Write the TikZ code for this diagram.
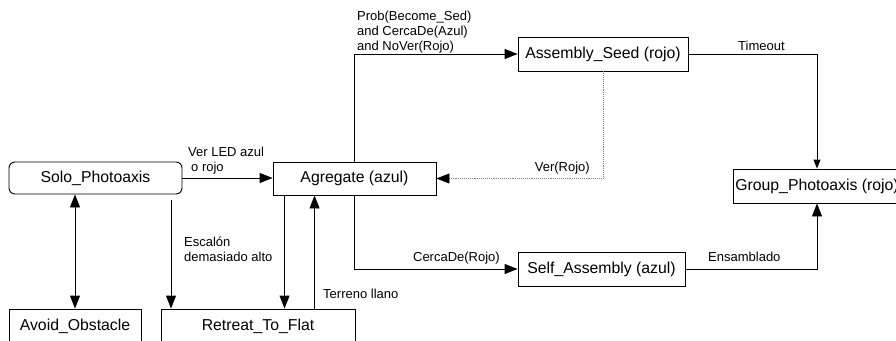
\documentclass[tikz,border=0pt]{standalone}
\usepackage{fontspec}
\setmainfont{Liberation Sans}
\usetikzlibrary{arrows.meta,calc}
\tikzset{
statebox/.style={draw,line width=0.9pt,inner sep=0pt,minimum height=34pt,font=\fontsize{15.8}{18}\selectfont},
lbl/.style={inner sep=0pt,align=left,font=\fontsize{13}{15}\selectfont},
arrow/.style={-{Triangle[length=13pt,width=10pt]},line width=0.9pt},
dblarrow/.style={{Triangle[length=13pt,width=10pt]}-{Triangle[length=13pt,width=10pt]},line width=0.9pt},
smallarrow/.style={-{Triangle[length=9pt,width=7pt]},line width=0.9pt},
dotarrow/.style={-{Triangle[length=13pt,width=10pt,color=black]},line width=0.9pt,gray,densely dotted}
}
\begin{document}
\begin{tikzpicture}[x=1pt,y=-1pt]
\clip (0,0) rectangle (896,340);
% states
\node[statebox,rounded corners=6pt,minimum width=173pt,minimum height=32pt](solo) at (95.5,178){Solo\_Photoaxis};
\node[statebox,minimum width=163pt,minimum height=33pt](agg) at (354.5,178.5){Agregate (azul)};
\node[statebox,minimum width=170pt](seed) at (603,54){Assembly\_Seed (rojo)};
\node[statebox,minimum width=168pt](group) at (817,186){Group\_Photoaxis (rojo)};
\node[statebox,minimum width=167pt](self) at (601.5,269){Self\_Assembly (azul)};
\node[statebox,minimum width=132pt](avoid) at (75,326){Avoid\_Obstacle};
\node[statebox,minimum width=194pt](retreat) at (258,326){Retreat\_To\_Flat};
\coordinate (esc) at (171,200);
% transitions
\draw[arrow](solo.east)--(solo.east -| agg.west);
\draw[dblarrow](solo.south -| avoid.north)--(avoid.north);
\draw[arrow](esc)--(esc |- retreat.north);
\draw[arrow]([xshift=12pt]agg.south west)--([xshift=12pt]agg.south west |- retreat.north);
\draw[arrow]([xshift=42pt]agg.south west |- retreat.north)--([xshift=42pt]agg.south west);
\draw[arrow](agg.north)|-(seed.west);
\draw[dotarrow](seed.south)|-(agg.east);
\draw[arrow](agg.south)|-(self.west);
\draw[smallarrow](seed.east)-|(group.north);
\draw[arrow](self.east)-|(group.south);
% labels
\node[lbl,anchor=north west](lver) at (188,146.5){Ver LED azul\\\hspace{3pt}o rojo};
\node[lbl,anchor=north west](lesc) at (184,237){Escal\'on\\demasiado alto};
\node[lbl,anchor=base west](lterr) at (323,298){Terreno llano};
\node[lbl,anchor=north west](lprob) at (357,10.5){Prob(Become\_Sed)\\and CercaDe(Azul)\\and NoVer(Rojo)};
\node[lbl,anchor=base east](lrojo) at (590,171.4){Ver(Rojo)};
\node[lbl,anchor=base east](lcerca) at (500,261.5){CercaDe(Rojo)};
\node[lbl,anchor=base west](lens) at (708,261.4){Ensamblado};
\node[lbl,anchor=base west](ltime) at (738,50.4){Timeout};
\end{tikzpicture}
\end{document}
